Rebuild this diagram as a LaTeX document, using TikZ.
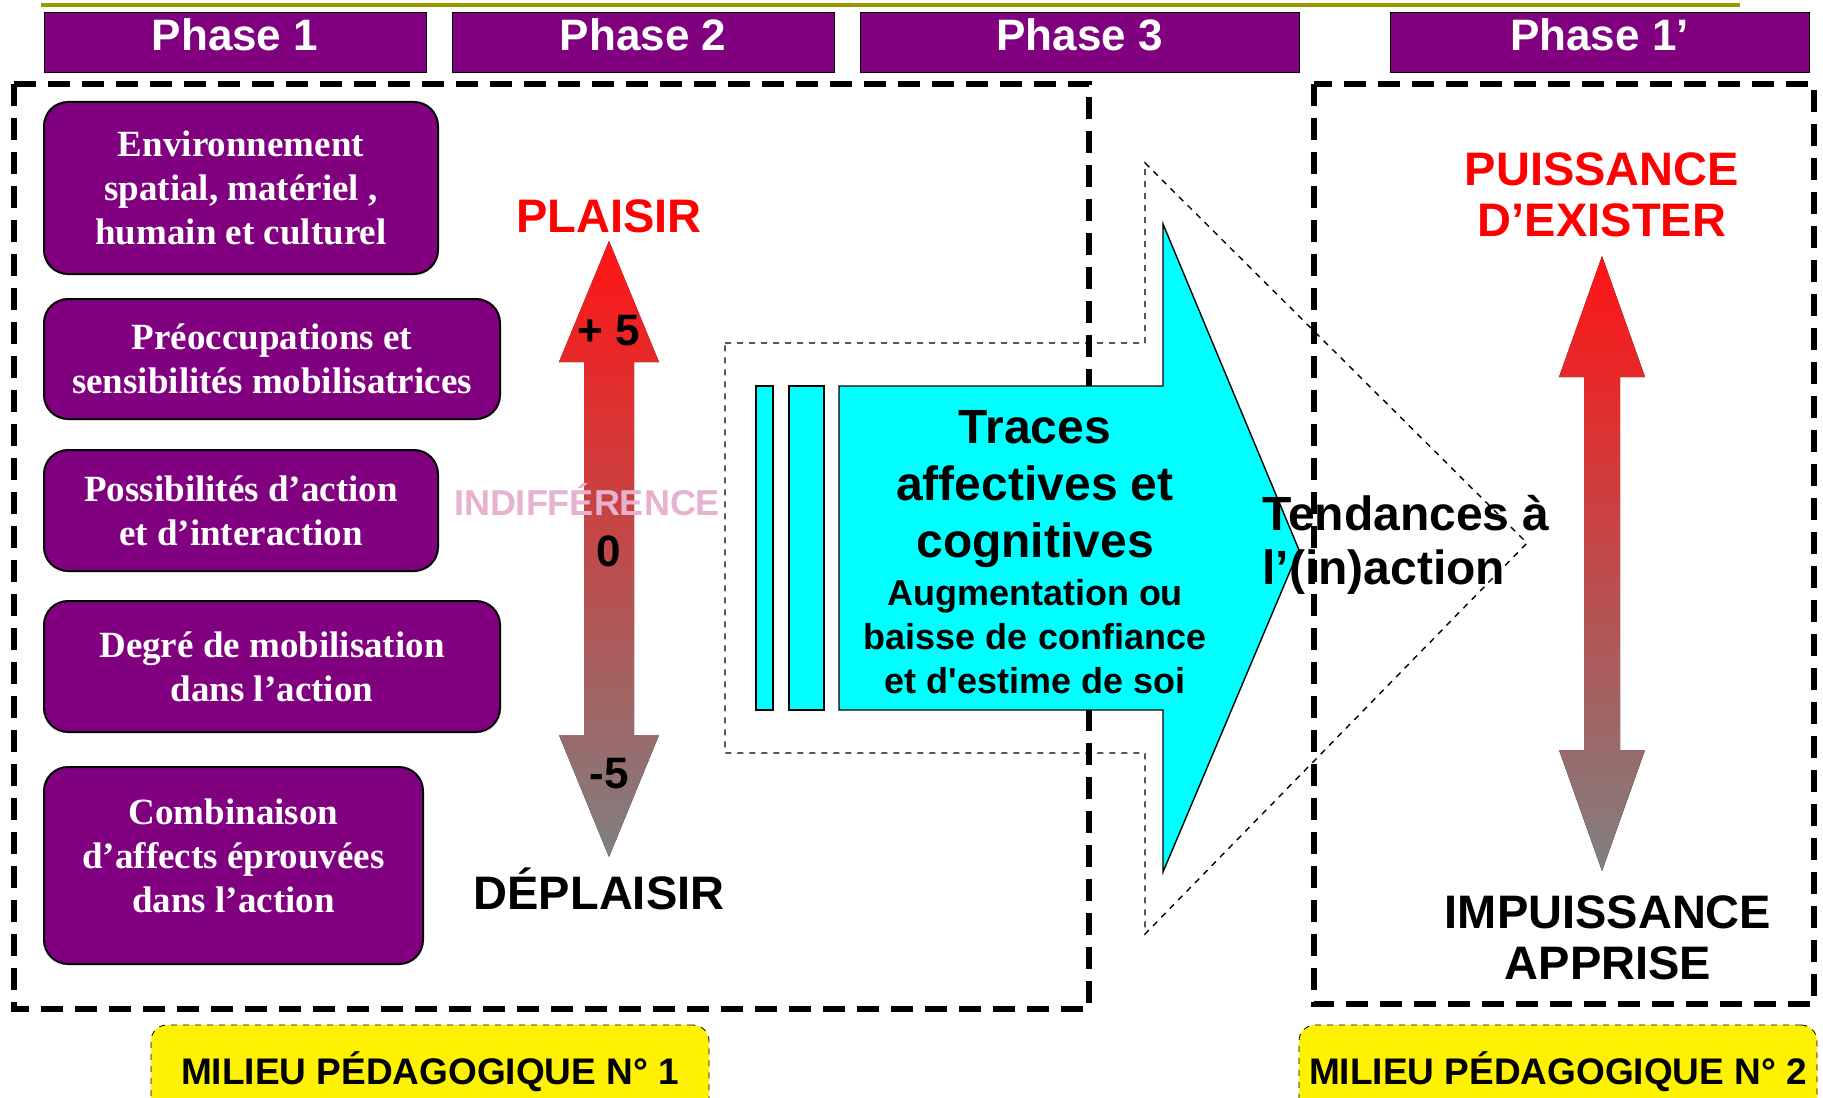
\documentclass[tikz,border=0pt]{standalone}
\usepackage{fontspec}
\setmainfont{Liberation Sans}
\newfontfamily\boxserif{Liberation Serif}
\definecolor{phasepurple}{RGB}{128,0,128}
\definecolor{olivebar}{RGB}{153,153,0}
\definecolor{indiffpink}{RGB}{230,178,208}
\definecolor{arrowred}{RGB}{255,20,20}
\definecolor{arrowgray}{RGB}{128,128,128}
\definecolor{tracecyan}{RGB}{0,255,255}
\begin{document}
\begin{tikzpicture}[x=0.5pt,y=-0.5pt,
phase/.style={draw,fill=phasepurple,text=white,minimum height=30pt,inner sep=0pt,
  text depth=7pt,font=\fontsize{22}{25}\selectfont\bfseries},
facteur/.style={draw,line width=1pt,fill=phasepurple,rounded corners=12pt,text=white,
  align=center,inner sep=0pt,font=\boxserif\fontsize{18.5}{22}\selectfont\bfseries},
milieu/.style={line width=3pt,dash pattern=on 11pt off 6pt},
milieubox/.style={draw,fill=yellow,dashed,thin,rounded corners=8pt,inner sep=0pt,
  minimum height=46.5pt,font=\fontsize{18.5}{20}\selectfont\bfseries},
echelle/.style={shading=axis,top color=arrowred,bottom color=arrowgray,draw=none},
big/.style={font=\fontsize{23.5}{25.5}\selectfont\bfseries,align=center,inner sep=0pt},
cote/.style={font=\fontsize{22}{24}\selectfont\bfseries,inner sep=0pt}
]
\useasboundingbox (0,0) rectangle (1823,1097);
\clip (0,0) rectangle (1823,1097);
\draw[olivebar,line width=2pt] (41,5) -- (1740,5);

\node[phase,minimum width=191pt] (p1) at (235,42) {Phase 1};
\node[phase,minimum width=191pt] (p2) at (643,42) {Phase 2};
\node[phase,minimum width=219.5pt] (p3) at (1079.5,42) {Phase 3};
\node[phase,minimum width=209.5pt] (p1b) at (1599.5,42) {Phase 1’};

\draw[milieu] (14,84) rectangle (1089,1009);
\draw[milieu] (1314,84) rectangle (1814,1004);

\node[facteur,minimum width=197pt,minimum height=86pt] (env) at (241,188)
  {Environnement\\spatial, matériel ,\\humain et culturel};
\node[facteur,minimum width=228pt,minimum height=60pt] (preo) at (272,359)
  {Préoccupations et\\sensibilités mobilisatrices};
\node[facteur,minimum width=197pt,minimum height=60.5pt] (poss) at (241,510.5)
  {Possibilités d’action\\et d’interaction};
\node[facteur,minimum width=228pt,minimum height=65.5pt] (degre) at (272,666.5)
  {Degré de mobilisation\\dans l’action};
\node[facteur,minimum width=189.5pt,minimum height=98.5pt] (comb) at (233.5,865.5)
  {Combinaison\\d’affects éprouvées\\dans l’action\\[-12pt]\mbox{}};

\fill[echelle] (609,241) -- (659,362) -- (634,362) -- (634,735) -- (659,735) -- (609,857)
  -- (559,735) -- (584,735) -- (584,362) -- (559,362) -- cycle;
\fill[echelle] (1602,256) -- (1645,377) -- (1620,377) -- (1620,750) -- (1645,750) -- (1602,871)
  -- (1559,750) -- (1584,750) -- (1584,377) -- (1559,377) -- cycle;

\draw[dashed,line width=0.7pt] (725,343) -- (1145,343) -- (1145,163) -- (1527,543) -- (1145,934)
  -- (1145,753) -- (725,753) -- cycle;
\draw[fill=tracecyan,line width=0.7pt] (839,386) -- (1163,386) -- (1163,224) -- (1299,550) -- (1163,872)
  -- (1163,710) -- (839,710) -- cycle;
\draw[fill=tracecyan,line width=0.7pt] (756,386) rectangle (773,710);
\draw[fill=tracecyan,line width=0.7pt] (789,386) rectangle (824,710);

\node[big,text=red] (plaisir) at (609,216) {PLAISIR};
\node[cote] (plus) at (609,331) {+ 5};
\node[font=\fontsize{18}{20}\selectfont\bfseries,text=indiffpink,inner sep=0pt] (indiff) at (587,500) {INDIFFÉRENCE};
\node[cote] (zero) at (609,551) {0};
\node[cote] (moins) at (609,774) {-5};
\node[big] (deplaisir) at (599,889) {DÉPLAISIR};

\node[font=\fontsize{24}{28.5}\selectfont\bfseries,align=center,inner sep=0pt] (traces) at (1035,489)
  {Traces\\affectives et\\cognitives};
\node[font=\fontsize{18}{22}\selectfont\bfseries,align=center,inner sep=0pt] (estime) at (1035,637)
  {Augmentation ou\\baisse de confiance\\et d\textquotesingle estime de soi};
\node[font=\fontsize{24}{27}\selectfont\bfseries,align=left,inner sep=0pt,anchor=west] (tend) at (1262,545)
  {Tendances à\\l’(in)action};

\node[big,text=red] (puiss) at (1602,195) {PUISSANCE\\D’EXISTER};
\node[big] (impuiss) at (1608,938) {IMPUISSANCE\\APPRISE};

\node[milieubox,minimum width=279pt] (m1) at (430,1071.5) {MILIEU PÉDAGOGIQUE N° 1};
\node[milieubox,minimum width=259pt] (m2) at (1558,1071.5) {MILIEU PÉDAGOGIQUE N° 2};
\end{tikzpicture}
\end{document}
